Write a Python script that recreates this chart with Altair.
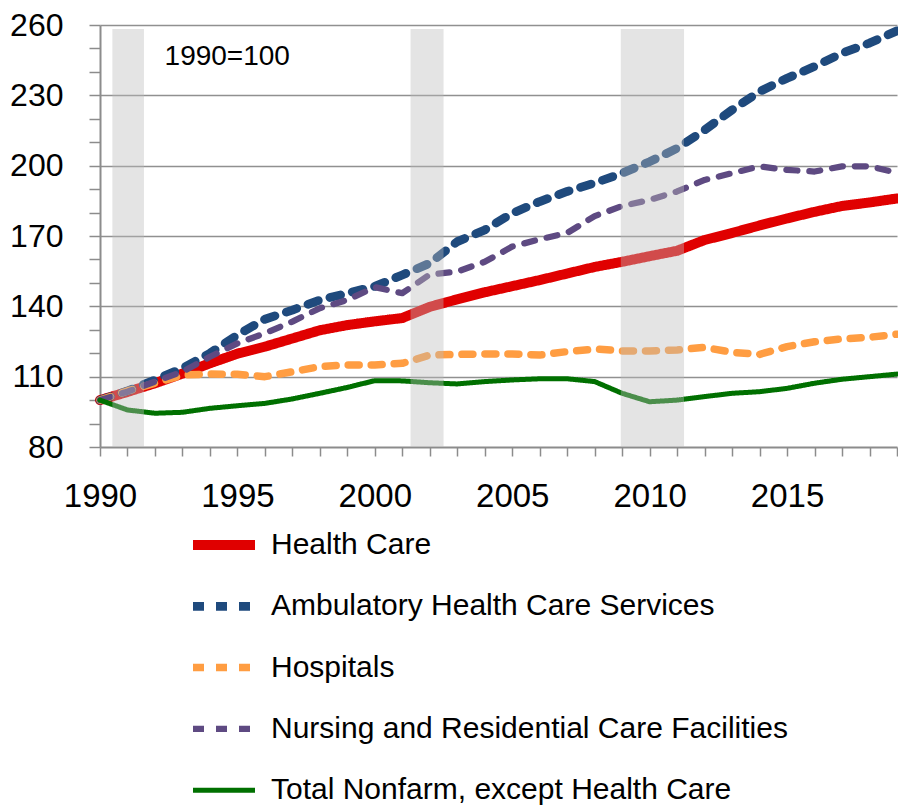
import altair as alt
import pandas as pd

FONT = "Liberation Sans"

years = list(range(1990, 2020))
health_care = [100, 103.5, 107.2, 111.3, 115.7, 119.8, 122.8, 126.3, 129.8, 132.0,
               133.6, 135.0, 139.8, 143.0, 146.0, 148.6, 151.2, 154.0, 156.8, 159.0,
               161.4, 163.7, 168.3, 171.3, 174.5, 177.5, 180.3, 182.8, 184.3, 186.0]
ambulatory = [100, 103.9, 108.6, 113.6, 120.0, 127.8, 134.5, 138.4, 142.7, 145.6,
              148.5, 153.4, 158.4, 167.6, 172.6, 179.7, 184.7, 189.0, 192.6, 196.8,
              201.7, 207.4, 215.2, 223.8, 231.6, 237.3, 242.3, 248.0, 252.3, 257.5]
hospitals = [100, 103.9, 107.2, 110.7, 111.1, 111.0, 110.0, 112.1, 114.3, 115.0,
             115.0, 115.7, 119.2, 119.5, 119.7, 119.7, 119.2, 120.7, 121.8, 121.0,
             121.0, 121.4, 122.5, 120.4, 119.5, 122.8, 124.9, 126.1, 126.8, 128.1]
nursing = [100, 103.6, 107.9, 112.1, 118.5, 124.2, 128.5, 133.5, 139.2, 142.7,
           148.2, 145.6, 153.6, 154.8, 159.0, 165.5, 168.6, 171.3, 178.5, 182.8,
           185.4, 189.0, 193.9, 196.8, 199.7, 198.2, 197.5, 199.7, 199.7, 197.0]
nonfarm = [100, 95.8, 94.4, 94.8, 96.5, 97.6, 98.6, 100.5, 102.9, 105.4,
           108.3, 108.2, 107.4, 106.9, 107.9, 108.6, 109.1, 109.1, 107.9, 102.9,
           99.3, 100.0, 101.5, 102.9, 103.6, 105.0, 107.2, 108.9, 110.0, 111.1]

series = ["Health Care", "Ambulatory Health Care Services", "Hospitals",
          "Nursing and Residential Care Facilities", "Total Nonfarm, except Health Care"]
colors = ["#e00000", "#1f4a7d", "#ff9d42", "#5e4a82", "#007000"]
dashes = [[1, 0], [11, 12], [11, 12], [11, 12], [1, 0]]
widths = [10, 5, 5, 5, 5]

recession_start = [1990.45, 2001.3, 2008.95]
recession_end = [1991.6, 2002.5, 2011.25]
shade_top = 258.3
shade_bottom = 80

note_text = ["1990=100"]
note_x = [1992.35]
note_y = [246.4]

rows = []
for name, vals in zip(series, [health_care, ambulatory, hospitals, nursing, nonfarm]):
    for yr, v in zip(years, vals):
        rows.append({"year": yr, "value": v, "series": name})
df = pd.DataFrame(rows)

shade_df = pd.DataFrame({"start": recession_start, "end": recession_end,
                         "top": [shade_top] * 3, "bottom": [shade_bottom] * 3})
note_df = pd.DataFrame({"x": note_x, "y": note_y, "label": note_text})

AXIS_GRAY = "#8c8c8c"

xaxis = alt.Axis(values=years, format="d",
                 labelExpr="datum.value % 5 == 0 ? datum.label : ''",
                 grid=False, tickSize=9, tickColor=AXIS_GRAY, tickWidth=1.5,
                 domainColor=AXIS_GRAY, domainWidth=2,
                 labelFont=FONT, labelFontSize=33, labelColor="black",
                 labelPadding=24, labelFlush=False, labelOverlap=False, title=None)
yaxis = alt.Axis(values=list(range(80, 261, 10)),
                 labelExpr="datum.value % 30 == 20 ? datum.label : ''",
                 grid=True,
                 gridOpacity={"condition": {"test": "datum.value % 30 == 20 && datum.value > 80",
                                            "value": 1}, "value": 0},
                 gridColor="#909090", gridWidth=1.5,
                 tickSize=11, tickColor=AXIS_GRAY, tickWidth=1.5,
                 domainColor=AXIS_GRAY, domainWidth=2,
                 labelFont=FONT, labelFontSize=32, labelColor="black",
                 labelPadding=26, labelFlush=False, labelOverlap=False, title=None)

legend = alt.Legend(orient="none", legendX=88, legendY=505, title=None,
                    direction="vertical", symbolType="stroke", symbolSize=3844,
                    labelFont=FONT, labelFontSize=30, labelColor="black",
                    labelLimit=800, clipHeight=30, rowPadding=31.3, labelOffset=11,
                    padding=0)

xscale = alt.Scale(domain=[1990, 2019], nice=False, zero=False)
yscale = alt.Scale(domain=[80, 260], nice=False, zero=False)

lines = alt.Chart(df).mark_line(strokeCap="round", strokeJoin="round").encode(
    x=alt.X("year:Q", scale=xscale, axis=xaxis),
    y=alt.Y("value:Q", scale=yscale, axis=yaxis),
    color=alt.Color("series:N", scale=alt.Scale(domain=series, range=colors), legend=legend),
    strokeDash=alt.StrokeDash("series:N", scale=alt.Scale(domain=series, range=dashes), legend=legend),
    strokeWidth=alt.StrokeWidth("series:N", scale=alt.Scale(domain=series, range=widths), legend=legend),
)

shade = alt.Chart(shade_df).mark_rect(color="#bbbbbb", opacity=0.4).encode(
    x=alt.X("start:Q", scale=xscale, axis=xaxis), x2="end:Q",
    y=alt.Y("top:Q", scale=yscale, axis=yaxis), y2="bottom:Q",
)

note = alt.Chart(note_df).mark_text(align="left", baseline="middle", fontSize=28,
                                    font=FONT, color="black").encode(
    x=alt.X("x:Q", scale=xscale, axis=xaxis),
    y=alt.Y("y:Q", scale=yscale, axis=yaxis),
    text="label:N")

chart = alt.layer(lines, shade, note).properties(
    width=797, height=422,
    padding={"left": 92, "top": 17, "right": 1, "bottom": 358},
    autosize=alt.AutoSizeParams(type="none"),
).configure_view(stroke=None).configure_axis(labelOverlap=False)

chart.save("out.html", embed_options={"renderer": "svg", "actions": False})
